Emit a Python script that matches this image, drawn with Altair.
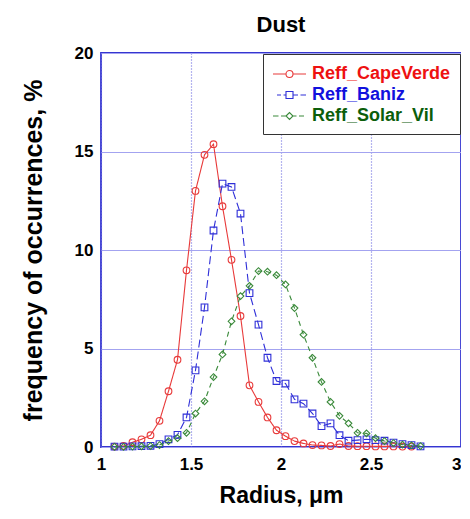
import altair as alt
import pandas as pd

radius = [1.075, 1.125, 1.175, 1.225, 1.275, 1.325, 1.375, 1.425, 1.475, 1.525,
          1.575, 1.625, 1.675, 1.725, 1.775, 1.825, 1.875, 1.925, 1.975, 2.025,
          2.075, 2.125, 2.175, 2.225, 2.275, 2.325, 2.375, 2.425, 2.475, 2.525,
          2.575, 2.625, 2.675, 2.725, 2.775]

cape_verde = [0.02, 0.05, 0.24, 0.39, 0.60, 1.33, 2.83, 4.43, 8.97, 13.0,
              14.83, 15.37, 12.22, 9.5, 6.65, 3.13, 2.29, 1.5, 0.85, 0.55,
              0.3, 0.18, 0.1, 0.08, 0.05, 0.15, 0.05, 0.04, 0.04, 0.03,
              0.03, 0.03, 0.02, 0.02]
baniz = [0.02, 0.02, 0.03, 0.04, 0.06, 0.15, 0.39, 0.62, 1.5, 3.89,
         7.09, 10.99, 13.37, 13.2, 11.85, 7.81, 6.21, 4.53, 3.35, 3.22,
         2.42, 2.2, 1.70, 1.06, 1.2, 0.6, 0.32, 0.35, 0.39, 0.35,
         0.32, 0.22, 0.15, 0.1, 0.03]
solar_vil = [0.01, 0.01, 0.02, 0.03, 0.05, 0.1, 0.3, 0.45, 0.72, 1.7,
             2.32, 3.55, 4.7, 6.38, 7.66, 8.18, 8.93, 8.9, 8.72, 8.25,
             7.05, 5.7, 4.53, 3.3, 2.29, 1.58, 1.2, 0.72, 0.69, 0.45,
             0.3, 0.2, 0.12, 0.08, 0.05]

names = ["Reff_CapeVerde", "Reff_Baniz", "Reff_Solar_Vil"]
colors = ["#e83a3a", "#2f2fd8", "#3a8a3a"]
label_colors = ["#ee1111", "#1111dd", "#0b5e0b"]

rows = []
for name, vals in zip(names, [cape_verde, baniz, solar_vil]):
    for r, v in zip(radius, vals):
        rows.append({"r": r, "value": v, "series": name, "leg": name})
df = pd.DataFrame(rows)

FONT = "Liberation Sans"

color_scale = alt.Scale(domain=names, range=colors)

x_enc = alt.X("r:Q", scale=alt.Scale(domain=[1, 3], nice=False),
              axis=alt.Axis(values=[1, 1.5, 2, 2.5, 3], format="~g",
                            title="Radius, \u03bcm", grid=True,
                            gridColor="#6a6ae0", gridDash=[1, 2], gridWidth=1.2,
                            ticks=False, domain=False, labelPadding=9,
                            labelFontSize=17, labelFontWeight="bold",
                            labelAlign=alt.ExprRef("datum.value == 3 ? 'right' : 'center'"),
                            titleFontSize=23, titleFontWeight="bold",
                            titlePadding=12, labelFlush=False))
y_enc = alt.Y("value:Q", scale=alt.Scale(domain=[0, 20], nice=False),
              axis=alt.Axis(values=[0, 5, 10, 15, 20],
                            title="frequency of occurrences, %", grid=True,
                            gridColor="#a3a3f0", gridWidth=1.2,
                            ticks=False, domain=False, labelPadding=8,
                            labelFontSize=17, labelFontWeight="bold",
                            titleFontSize=25, titleFontWeight="bold",
                            titlePadding=28))

lines = alt.Chart(df).mark_line(strokeWidth=1.1).encode(
    x=x_enc, y=y_enc,
    color=alt.Color("series:N", scale=color_scale, legend=None),
    strokeDash=alt.StrokeDash("series:N",
                              scale=alt.Scale(domain=names, range=[[1, 0], [8, 4], [5, 4]]),
                              legend=None),
    detail="series:N",
)

points = alt.Chart(df).mark_point(filled=False, size=45, strokeWidth=1.1, opacity=1).encode(
    x="r:Q", y="value:Q",
    color=alt.Color("series:N", scale=color_scale, legend=None),
    shape=alt.Shape("series:N",
                    scale=alt.Scale(domain=names, range=["circle", "square", "diamond"]),
                    legend=None),
)

leg_paths = [
    "M-1,0L0.3,0M1.0,0L2.3,0M0.3,0A0.35,0.35 0 1,0 1.0,0A0.35,0.35 0 1,0 0.3,0",
    "M-0.6,0L-0.2,0M0.05,0L0.3,0M0.3,-0.35L1.0,-0.35L1.0,0.35L0.3,0.35Z"
    "M1.0,0L1.5,0M1.75,0L2.3,0",
    "M-1,0L-0.45,0M-0.2,0L0.3,0M0.3,0L0.65,-0.35L1.0,0L0.65,0.35Z"
    "M1.0,0L1.35,0M1.6,0L2.1,0",
]

def by_series(vals):
    return ("datum.value == 'Reff_CapeVerde' ? '%s' : datum.value == 'Reff_Baniz' ? '%s' : '%s'"
            % tuple(vals))

leg = alt.Legend(title=None, orient="top-right", offset=1,
                 strokeColor="#333333", fillColor="white", padding=9,
                 symbolSize=400, symbolStrokeWidth=1.1, symbolOpacity=1,
                 symbolStrokeColor=alt.ExprRef(by_series(colors)),
                 labelFontSize=18, labelFontWeight="bold", labelFont=FONT,
                 labelColor=alt.ExprRef(by_series(label_colors)), labelOffset=18,
                 rowPadding=1, labelLimit=0)

legend_layer = alt.Chart(df).mark_point(filled=False, opacity=0).encode(
    x="r:Q", y="value:Q",
    color=alt.Color("leg:N", scale=color_scale, legend=leg),
    shape=alt.Shape("leg:N", scale=alt.Scale(domain=names, range=leg_paths), legend=leg),
)

chart = alt.layer(lines, points, legend_layer).resolve_scale(
    shape="independent"
).properties(
    width=360, height=394,
    title=alt.TitleParams("Dust", fontSize=22, fontWeight="bold", font=FONT,
                          anchor="middle", offset=7),
    padding={"left": 13, "top": 6, "right": 0, "bottom": 0},
).configure_view(
    stroke="#3535d0", strokeWidth=1.8
).configure_axis(
    labelFont=FONT, titleFont=FONT, labelColor="black", titleColor="black"
).configure_legend(
    labelFont=FONT
)

chart.save("out.html", embed_options={"renderer": "svg", "actions": False})
